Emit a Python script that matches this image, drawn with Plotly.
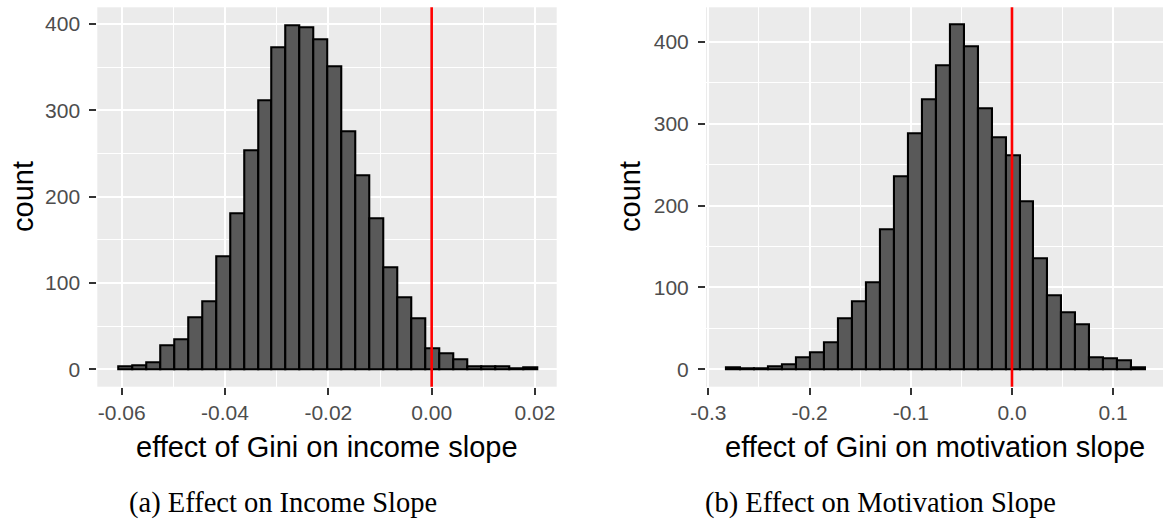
import plotly.graph_objects as go

# ---- data ----
income_counts = [4, 5, 8, 28, 35, 60, 79, 131, 181, 254, 312, 373, 399, 396, 382,
                 351, 276, 225, 175, 118, 83, 59, 24, 19, 11, 4, 4, 3, 1, 2]
income_bin_start = -0.060646
income_bin_width = 0.0027

motiv_counts = [2, 1, 1, 4, 6, 15, 21, 33, 62, 83, 106, 171, 236, 289, 330,
                372, 422, 395, 319, 283, 261, 205, 136, 90, 70, 55, 15, 13, 11, 3]
motiv_bin_start = -0.2825
motiv_bin_width = 0.013806

income_ticks = [-0.06, -0.04, -0.02, 0.00, 0.02]
income_ticktext = ["-0.06", "-0.04", "-0.02", "0.00", "0.02"]
motiv_ticks = [-0.3, -0.2, -0.1, 0.0, 0.1]
motiv_ticktext = ["-0.3", "-0.2", "-0.1", "0.0", "0.1"]
count_ticks = [0, 100, 200, 300, 400]
count_ticktext = ["0", "100", "200", "300", "400"]

income_title = "effect of Gini on income slope"
motiv_title = "effect of Gini on motivation slope"
caption_a = "(a) Effect on Income Slope"
caption_b = "(b) Effect on Motivation Slope"

W, H = 1164, 520

def centers(start, width, n):
    return [start + width * (i + 0.5) for i in range(n)]

fig = go.Figure()
bar_style = dict(marker=dict(color="#595959", line=dict(color="black", width=2.1)),
                 showlegend=False, hoverinfo="x+y")
fig.add_trace(go.Bar(x=centers(income_bin_start, income_bin_width, len(income_counts)),
                     y=income_counts, width=income_bin_width,
                     xaxis="x", yaxis="y", **bar_style))
fig.add_trace(go.Bar(x=centers(motiv_bin_start, motiv_bin_width, len(motiv_counts)),
                     y=motiv_counts, width=motiv_bin_width,
                     xaxis="x2", yaxis="y2", **bar_style))

sans = "Liberation Sans, Arial, Helvetica, sans-serif"
tickfont = dict(family=sans, size=21, color="#4D4D4D")

common_axis = dict(showgrid=True, gridcolor="white", gridwidth=1.6, zeroline=False,
                   showline=False, ticks="outside", ticklen=7, tickwidth=1.6,
                   tickcolor="#333333", tickfont=tickfont, automargin=False,
                   tickmode="array")

y_dom = [(H - 386.7) / H, (H - 7.3) / H]
minor_style = dict(showgrid=True, gridcolor="white", gridwidth=0.8, ticks="")

fig.update_layout(
    width=W, height=H,
    margin=dict(l=0, r=0, t=0, b=0),
    paper_bgcolor="white", plot_bgcolor="#EBEBEB",
    bargap=0, barmode="overlay",
    xaxis=dict(domain=[97.3 / W, 556.7 / W], range=[-0.06472, 0.0242], anchor="y",
               tickvals=income_ticks, ticktext=income_ticktext, ticklabelstandoff=0,
               minor=dict(dtick=0.01, tick0=-0.05, **minor_style),
               **common_axis),
    yaxis=dict(domain=y_dom, range=[-20.2, 419.5], anchor="x",
               tickvals=count_ticks, ticktext=count_ticktext, ticklabelstandoff=5,
               minor=dict(dtick=100, tick0=50, **minor_style),
               **common_axis),
    xaxis2=dict(domain=[706 / W, 1163 / W], range=[-0.3023, 0.1492], anchor="y2",
                tickvals=motiv_ticks, ticktext=motiv_ticktext, ticklabelstandoff=0,
                minor=dict(dtick=0.05, tick0=-0.25, **minor_style),
                **common_axis),
    yaxis2=dict(domain=y_dom, range=[-21.3, 442.5], anchor="x2",
                tickvals=count_ticks, ticktext=count_ticktext, ticklabelstandoff=5,
                minor=dict(dtick=100, tick0=50, **minor_style),
                **common_axis),
)

# red reference lines at zero
for xr, yr in (("x", "y domain"), ("x2", "y2 domain")):
    fig.add_shape(type="line", xref=xr, yref=yr, x0=0, x1=0, y0=0, y1=1,
                  line=dict(color="red", width=2.6), layer="above")

title_font = dict(family=sans, size=29, color="black")
serif = dict(family="Liberation Serif, Times New Roman, serif", size=28.5, color="black")

ann = [
    dict(text=income_title, x=327 / W, y=(H - 447) / H, font=title_font),
    dict(text=motiv_title, x=934.5 / W, y=(H - 447) / H, font=title_font),
    dict(text="count", x=23 / W, y=(H - 197) / H, font=title_font, textangle=-90),
    dict(text="count", x=630 / W, y=(H - 197) / H, font=title_font, textangle=-90),
    dict(text=caption_a, x=282.5 / W, y=(H - 503) / H, font=serif),
    dict(text=caption_b, x=880 / W, y=(H - 503) / H, font=serif),
]
for a in ann:
    fig.add_annotation(xref="paper", yref="paper", showarrow=False,
                       xanchor="center", yanchor="middle", **a)

fig.write_html("out.html")
